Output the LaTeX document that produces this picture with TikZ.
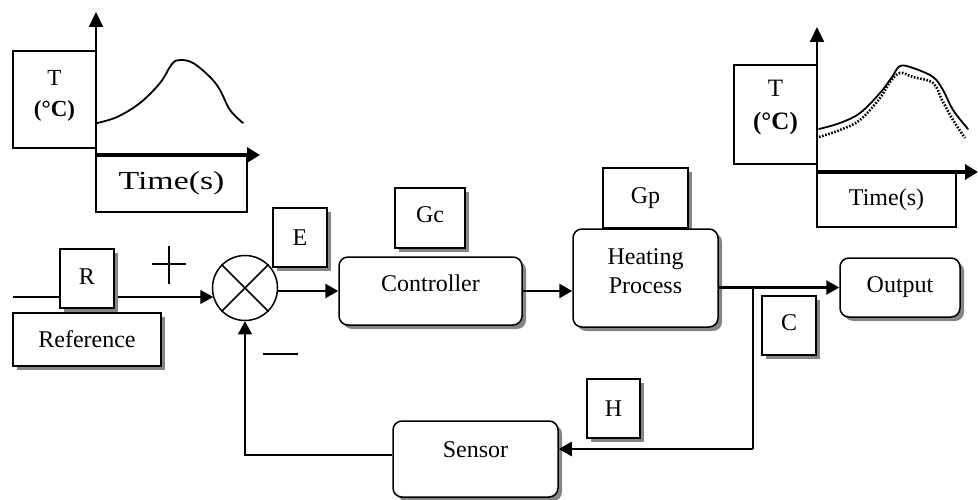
\documentclass[tikz,border=0pt]{standalone}
\usepackage{fontspec}
\setmainfont{Liberation Serif}
\usetikzlibrary{arrows.meta,shadows,calc}
\newcommand\liftup[2]{\raisebox{#1}[\height][\depth]{#2}}
\begin{document}
\begin{tikzpicture}[x=1pt,y=-1pt,
  plainbox/.style={draw=black, line width=1.5pt, fill=white, inner sep=0pt,
    font=\fontsize{24}{27}\selectfont},
  shadowbox/.style={plainbox, drop shadow={shadow xshift=4pt, shadow yshift=-4pt,
    fill=black!48, opacity=1}},
  roundbox/.style={shadowbox, rounded corners=9pt},
  sumnode/.style={draw=black, line width=1.5pt, fill=white, circle, minimum size=65pt, inner sep=0pt},
  sig/.style={line width=1.4pt},
  thinarrow/.style={line width=1.4pt, -{Triangle[length=13pt,width=14pt]}},
  thickarrow/.style={line width=2.7pt, -{Triangle[length=13pt,width=14pt]}},
  yaxis/.style={line width=2.2pt, -{Triangle[length=15pt,width=14pt]}},
  xaxis/.style={line width=3.2pt, -{Triangle[length=13pt,width=15pt]}},
  curve/.style={line width=1.8pt, line cap=round, line join=round},
  dotcurve/.style={line width=2.6pt, dash pattern=on 1.6pt off 1.6pt}
]
\useasboundingbox (0,0) rectangle (978,500);

% ---------- left chart ----------
\node[plainbox, minimum width=83pt, minimum height=97pt] (t1) at (54.5,99.5)
  {\liftup{5pt}{\fontsize{23}{31}\selectfont\begin{tabular}{@{}c@{}}T\\\textbf{(°C)}\end{tabular}}};
\node[plainbox, minimum width=151pt, minimum height=57pt] (time1) at (171.5,183.5)
  {\fontsize{26}{28}\selectfont\scalebox{1.3}[1]{Time(s)}};
\coordinate (o1) at (96,155);
\draw[yaxis] (o1) -- (96,12);
\draw[xaxis] (o1) -- (260,155);
\draw[curve] plot[smooth, tension=0.6] coordinates {(97,123) (117,117) (140,103) (160,83) (172,64) (180,60) (193,63) (210,77) (220,90) (230,110) (243,123)};

% ---------- right chart ----------
\node[plainbox, minimum width=83pt, minimum height=99pt] (t2) at (775.5,114.5)
  {\liftup{8pt}{\fontsize{25}{33}\selectfont\begin{tabular}{@{}c@{}}T\\\textbf{(°C)}\end{tabular}}};
\node[plainbox, minimum width=139pt, minimum height=55pt] (time2) at (886.5,199.5) {Time(s)};
\coordinate (o2) at (817,172);
\draw[yaxis] (o2) -- (817,27);
\draw[xaxis] (o2) -- (978,172);
\draw[curve] plot[smooth, tension=0.6] coordinates {(819,129) (840,123) (860,113) (880,93) (892,77) (900,66) (913,68) (933,77) (943,90) (953,110) (968,129)};
\draw[dotcurve] plot[smooth, tension=0.6] coordinates {(819,137) (840,130) (860,120) (880,98) (890,82) (900,73) (913,77) (933,83) (942,100) (953,120) (965,138)};

% ---------- summing junction ----------
\node[sumnode] (sum) at (245,288) {};
\draw[line width=1.5pt] (sum.45) -- (sum.225);
\draw[line width=1.5pt] (sum.135) -- (sum.-45);

% input
\coordinate (in) at (13,297);
\draw[thinarrow] (in) -- ($(in -| sum.west)+(1.5,0)$);
\node[shadowbox, minimum width=54pt, minimum height=59pt] (R) at (87,278.5) {\liftup{2pt}{R}};
\node[shadowbox, minimum width=148pt, minimum height=53pt] (ref) at (87,339.5) {Reference};

% signs
\coordinate (plusc) at (169,264);
\draw[line width=1.6pt] ($(plusc)+(-17,0)$) -- ($(plusc)+(17,0)$);
\draw[line width=1.6pt] ($(plusc)+(0,-18)$) -- ($(plusc)+(0,20)$);
\coordinate (minusc) at (280.5,354);
\draw[line width=2pt] ($(minusc)+(-17.5,0)$) -- ($(minusc)+(17.5,0)$);

\node[shadowbox, minimum width=54pt, minimum height=59pt] (E) at (300,237.5) {E};

% ---------- forward path ----------
\node[shadowbox, minimum width=70pt, minimum height=60pt] (Gc) at (430,218) {\liftup{3pt}{Gc}};
\node[roundbox, minimum width=183pt, minimum height=68pt] (ctrl) at (430.5,291) {\liftup{7.5pt}{Controller}};
\node[shadowbox, minimum width=85pt, minimum height=60pt] (Gp) at (645.5,198) {Gp};
\node[roundbox, minimum width=145pt, minimum height=98pt] (heat) at (645.5,278)
  {\liftup{5pt}{\fontsize{24}{29}\selectfont\begin{tabular}{@{}c@{}}Heating\\Process\end{tabular}}};
\node[roundbox, minimum width=120pt, minimum height=59pt] (out) at (900,287.5) {Output};
\node[shadowbox, minimum width=54pt, minimum height=59pt] (C) at (789,325.5) {\liftup{3pt}{C}};

\draw[thickarrow] (ctrl.west -| sum.east) -- (ctrl.west);
\draw[thickarrow] (ctrl.east) -- (ctrl.east -| heat.west);
\draw[thickarrow] (heat.east |- out.west) -- (out.west);

% ---------- feedback path ----------
\node[roundbox, minimum width=165pt, minimum height=76pt] (sensor) at (475.5,459) {\liftup{9pt}{Sensor}};
\node[shadowbox, minimum width=53pt, minimum height=59pt] (H) at (613.5,408.5) {H};

\coordinate (tap) at (753,287.5);
\coordinate (fbc) at (753,449);
\draw[sig] (tap) -- (fbc);
\draw[thickarrow, line join=miter] (fbc) -- (fbc -| sensor.east);
\coordinate (ret) at (245,455);
\draw[thinarrow] (ret -| sensor.west) -- (ret) -- (sum.south);
\end{tikzpicture}
\end{document}
